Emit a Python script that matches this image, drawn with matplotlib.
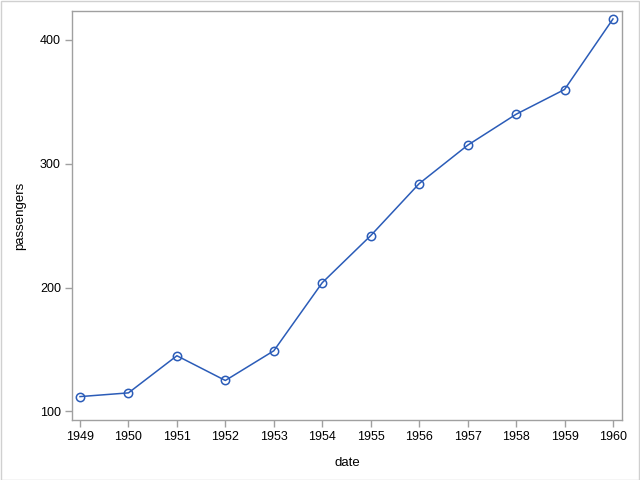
import matplotlib
matplotlib.use("Agg")
import matplotlib.pyplot as plt
from matplotlib.patches import Rectangle

years = [1949, 1950, 1951, 1952, 1953, 1954, 1955, 1956, 1957, 1958, 1959, 1960]
passengers = [112, 115, 145, 125, 149, 204, 242, 284, 315, 340, 360, 417]
yticks = [100, 200, 300, 400]

plt.rcParams['font.family'] = ['Liberation Sans', 'DejaVu Sans']
fig = plt.figure(figsize=(6.4, 4.8), dpi=100)
W, H = 640, 480
ax = fig.add_axes([72 / W, 1 - 420 / H, (622 - 72) / W, (420 - 11) / H])

color = '#2B5CB8'
ax.plot(years, passengers, color=color, lw=1.1, marker='o', ms=6,
        mfc='none', mec=color, mew=1.1)

ax.set_xlim(1948.835, 1960.186)
ax.set_ylim(93.1, 423.4)
ax.set_xticks(years)
ax.set_xticklabels([str(y) for y in years])
ax.set_yticks(yticks)
for s in ax.spines.values():
    s.set_color('#A0A0A0')
    s.set_linewidth(1)
ax.tick_params(axis='both', direction='out', length=5, width=1, color='#A0A0A0',
               labelsize=9, labelcolor='black', pad=3)
ax.set_xlabel('date', fontsize=9.5, labelpad=10)
ax.set_ylabel('passengers', fontsize=9.5, labelpad=10)

fig.patches.append(Rectangle((0.5 / W, 0.5 / H), 1 - 1.5 / W, 1 - 1.5 / H,
                             transform=fig.transFigure, fill=False,
                             ec='#D0D0D0', lw=1))
fig.savefig('out.png', dpi=100)
